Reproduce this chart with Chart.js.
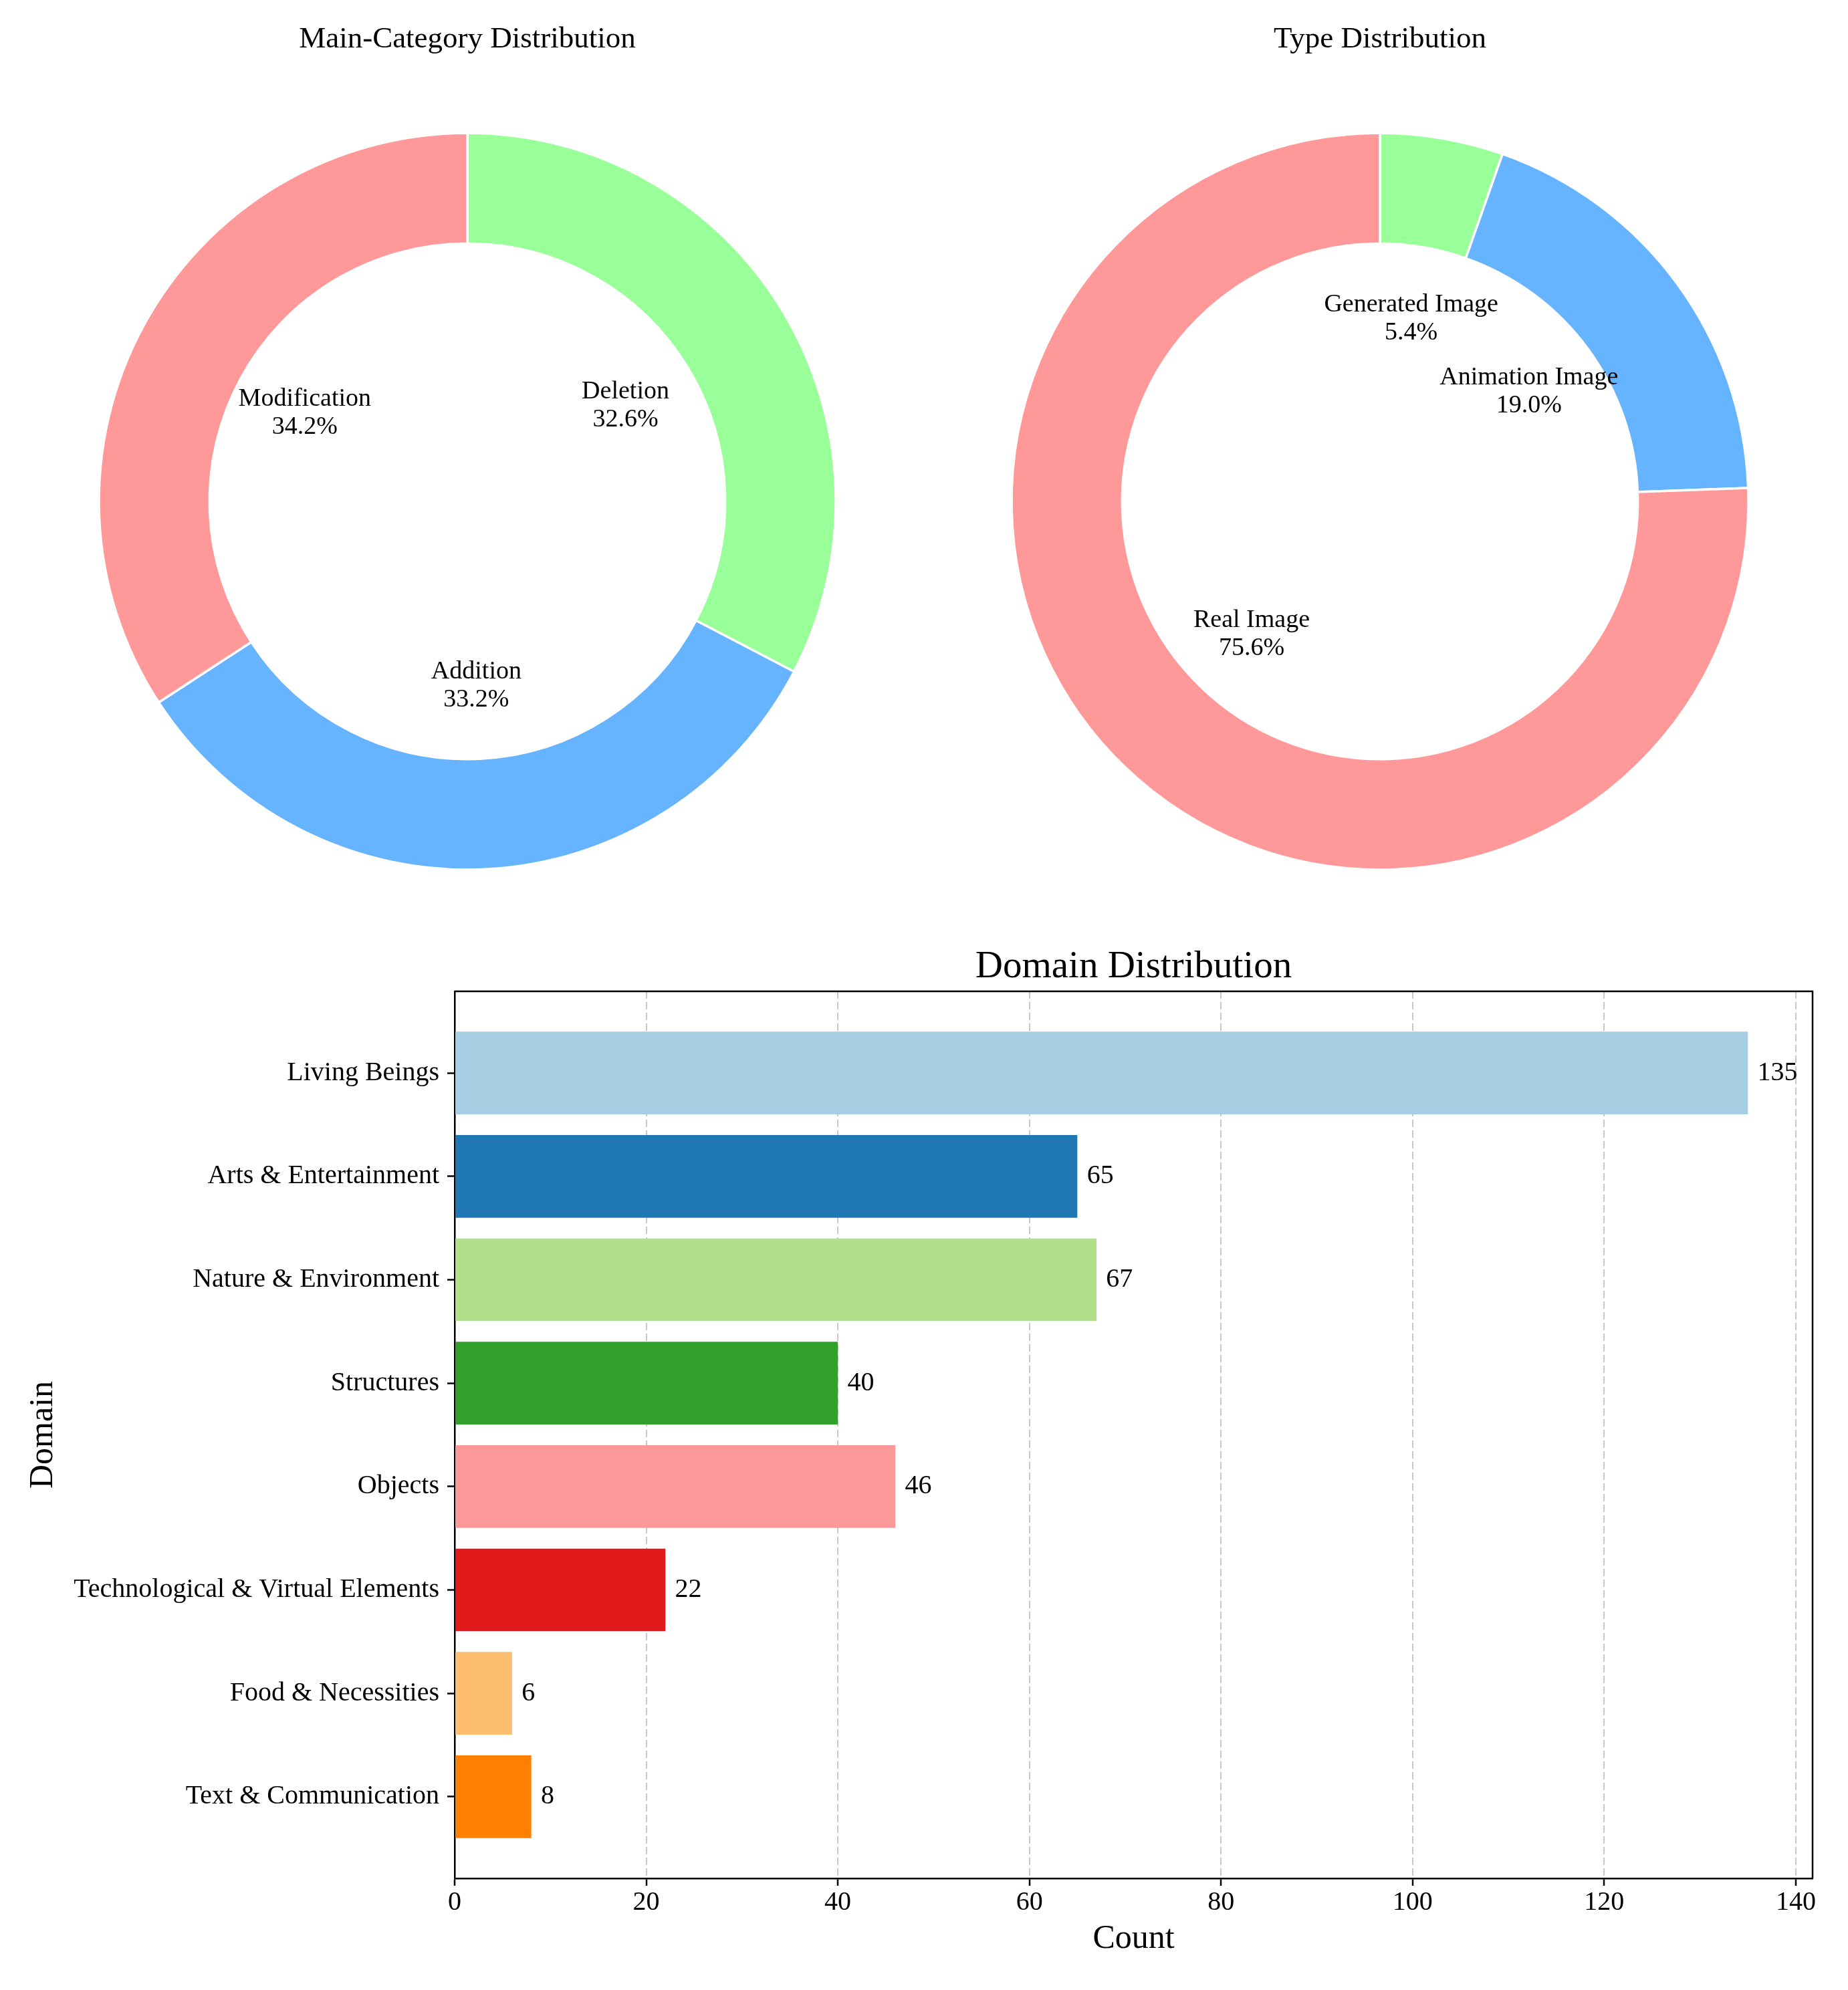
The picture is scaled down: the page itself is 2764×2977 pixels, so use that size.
<!DOCTYPE html>
<html>
<head>
<meta charset="utf-8">
<title>Distributions</title>
<script src="https://cdn.jsdelivr.net/npm/chart.js@4.4.1/dist/chart.umd.min.js"></script>
<style>
  html, body { margin: 0; padding: 0; background: #fff; }
  body { width: 2764px; height: 2977px; position: relative; overflow: hidden; }
  .box { position: absolute; }
</style>
</head>
<body>
<div class="box" style="left:0;top:0;width:1398px;height:1340px"><canvas id="mainPie"></canvas></div>
<div class="box" style="left:1365px;top:0;width:1398px;height:1340px"><canvas id="typePie"></canvas></div>
<div class="box" style="left:0;top:1340px;width:2764px;height:1637px"><canvas id="domainBar"></canvas></div>
<script>
// counts behind the two rings (percentages are worked out from these)
const mainLabels = ['Modification', 'Addition', 'Deletion'];
const mainCounts = [133, 129, 127];
const typeLabels = ['Real Image', 'Animation Image', 'Generated Image'];
const typeCounts = [294, 74, 21];
const pieColors = ['#ff9999', '#66b3ff', '#99ff99'];

// bar chart
const domainLabels = ['Living Beings', 'Arts & Entertainment', 'Nature & Environment', 'Structures',
  'Objects', 'Technological & Virtual Elements', 'Food & Necessities', 'Text & Communication'];
const domainCounts = [135, 65, 67, 40, 46, 22, 6, 8];
const domainColors = ['#a6cee3', '#1f78b4', '#b2df8a', '#33a02c', '#fb9a99', '#e31a1c', '#fdbf6f', '#ff7f00'];
const countTicks = [0, 20, 40, 60, 80, 100, 120, 140];

const serif = "'Liberation Serif', 'Times New Roman', serif";
Chart.defaults.font.family = serif;
Chart.defaults.color = '#000';

const ringLabels = {
  id: 'ringLabels',
  afterDatasetsDraw(chart) {
    const ctx = chart.ctx;
    const values = chart.data.datasets[0].data;
    const total = values.reduce((a, b) => a + b, 0);
    ctx.save();
    ctx.font = '38px ' + serif;
    ctx.fillStyle = '#000';
    ctx.textAlign = 'center';
    ctx.textBaseline = 'middle';
    chart.getDatasetMeta(0).data.forEach((arc, i) => {
      const mid = (arc.startAngle + arc.endAngle) / 2;
      const r = arc.outerRadius * 0.502;
      const x = arc.x + r * Math.cos(mid);
      const y = arc.y + r * Math.sin(mid);
      ctx.fillText(chart.data.labels[i], x, y - 21);
      ctx.fillText((values[i] / total * 100).toFixed(1) + '%', x, y + 21);
    });
    ctx.restore();
  }
};

function ringChart(id, title, labels, counts) {
  // the original goes counter-clockwise from 12 o'clock, Chart.js goes clockwise
  return new Chart(document.getElementById(id), {
    type: 'doughnut',
    data: {
      labels: labels.slice().reverse(),
      datasets: [{
        data: counts.slice().reverse(),
        backgroundColor: pieColors.slice(0, counts.length).reverse(),
        borderColor: '#ffffff',
        borderWidth: 3.5
      }]
    },
    options: {
      responsive: true,
      maintainAspectRatio: false,
      animation: false,
      radius: 551,
      cutout: '70%',
      plugins: {
        legend: { display: false },
        tooltip: { enabled: false },
        title: {
          display: true,
          text: title,
          color: '#000',
          font: { size: 45, weight: 'normal' },
          padding: { top: 32, bottom: 74 }
        }
      }
    },
    plugins: [ringLabels]
  });
}

ringChart('mainPie', 'Main-Category Distribution', mainLabels, mainCounts);
ringChart('typePie', 'Type Distribution', typeLabels, typeCounts);

const barValues = {
  id: 'barValues',
  afterDatasetsDraw(chart) {
    const ctx = chart.ctx;
    const xs = chart.scales.x;
    ctx.save();
    ctx.font = '40px ' + serif;
    ctx.fillStyle = '#000';
    ctx.textAlign = 'left';
    ctx.textBaseline = 'middle';
    chart.getDatasetMeta(0).data.forEach((bar, i) => {
      ctx.fillText(String(domainCounts[i]), xs.getPixelForValue(domainCounts[i] + 1), bar.y);
    });
    ctx.restore();
  }
};

const frame = {
  id: 'frame',
  afterDraw(chart) {
    const { left, top, right, bottom } = chart.chartArea;
    const ctx = chart.ctx;
    ctx.save();
    ctx.strokeStyle = '#000';
    ctx.lineWidth = 2.5;
    ctx.beginPath();
    ctx.moveTo(left, top);
    ctx.lineTo(right, top);
    ctx.lineTo(right, bottom);
    ctx.stroke();
    ctx.restore();
  }
};

new Chart(document.getElementById('domainBar'), {
  type: 'bar',
  data: {
    datasets: [{
      data: domainCounts.map((v, i) => ({ x: v, y: i })),
      backgroundColor: domainColors,
      borderWidth: 0,
      categoryPercentage: 1,
      barPercentage: 0.8
    }]
  },
  options: {
    indexAxis: 'y',
    responsive: true,
    maintainAspectRatio: false,
    animation: false,
    layout: { padding: { right: 53 } },
    scales: {
      x: {
        type: 'linear',
        position: 'bottom',
        min: 0,
        max: 141.75,
        afterFit: s => { s.height = 167; },
        afterBuildTicks: s => { s.ticks = countTicks.map(v => ({ value: v })); },
        ticks: { font: { size: 40 }, color: '#000', padding: 1 },
        grid: { color: '#c8c8c8', lineWidth: 2, tickColor: '#000', tickLength: 11, tickWidth: 2.5 },
        border: { color: '#000', width: 2.5, dash: [11, 5] },
        title: { display: true, text: 'Count', font: { size: 50 }, color: '#000', padding: { top: 0, bottom: 46 } }
      },
      y: {
        type: 'linear',
        position: 'left',
        reverse: true,
        offset: false,
        min: -0.79,
        max: 7.79,
        afterFit: s => { s.width = 680; },
        afterBuildTicks: s => { s.ticks = domainLabels.map((c, i) => ({ value: i })); },
        ticks: { font: { size: 40 }, color: '#000', padding: 12, callback: v => domainLabels[v] },
        grid: { offset: false, drawOnChartArea: false, tickColor: '#000', tickLength: 11, tickWidth: 2.5 },
        border: { color: '#000', width: 2.5 },
        title: { display: true, text: 'Domain', font: { size: 50 }, color: '#000', padding: { top: 35, bottom: 0 } }
      }
    },
    plugins: {
      legend: { display: false },
      tooltip: { enabled: false },
      title: {
        display: true,
        text: 'Domain Distribution',
        fullSize: false,
        color: '#000',
        font: { size: 57, weight: 'normal' },
        padding: { top: 73, bottom: 1.6 }
      }
    }
  },
  plugins: [barValues, frame]
});
</script>
</body>
</html>
